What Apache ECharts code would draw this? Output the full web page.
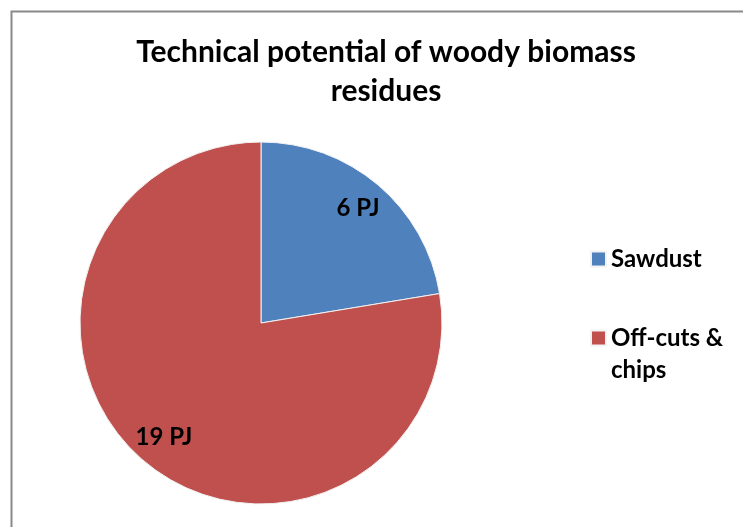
<!DOCTYPE html>
<html>
<head>
<meta charset="utf-8">
<script src="https://cdn.jsdelivr.net/npm/echarts@6/dist/echarts.min.js"></script>
<style>
  html, body { margin: 0; padding: 0; background: #fff; }
  #chart { width: 743px; height: 527px; }
</style>
</head>
<body>
<div id="chart"></div>
<script>
  // data
  const categories = ['Sawdust', 'Off-cuts & chips']
  const values = [5.6, 19.4]
  const colors = ['#4F81BD', '#C0504D']
  // empty first line keeps the marker level with "Off-cuts &"
  const legendNames = { 'Sawdust': 'Sawdust', 'Off-cuts & chips': '\nOff-cuts &\nchips' }

  const font = 'Lato, "Open Sans", sans-serif'
  const chart = echarts.init(document.getElementById('chart'))

  const pieData = categories.map((c, i) => ({ name: c, value: values[i], itemStyle: { color: colors[i] } }))

  const option = {
    animation: false,
    title: {
      text: 'Technical potential of woody biomass\nresidues',
      left: 381,
      top: 28,
      textAlign: 'center',
      textStyle: { fontFamily: font, fontWeight: 'bold', fontSize: 30, color: '#000', lineHeight: 39 }
    },
    legend: {
      orient: 'vertical',
      left: 585,
      top: 238,
      icon: 'rect',
      itemWidth: 15,
      itemHeight: 15,
      itemGap: 15,
      data: categories,
      formatter: name => legendNames[name],
      textStyle: { fontFamily: font, fontWeight: 'bold', fontSize: 24, color: '#000', lineHeight: 32 }
    },
    graphic: [{
      type: 'rect',
      shape: { x: 11.5, y: 11.5, width: 800, height: 600 },
      style: { fill: 'none', stroke: '#898989', lineWidth: 2 },
      silent: true
    }],
    series: [
      {
        type: 'pie',
        center: [261, 323],
        radius: [0, 181],
        startAngle: 90,
        clockwise: true,
        label: { show: false },
        labelLine: { show: false },
        itemStyle: { borderColor: '#f2f2f2', borderWidth: 1 },
        data: pieData
      },
      {
        // transparent ring used only to place the labels
        type: 'pie',
        center: [261, 323],
        radius: [0, 294],
        startAngle: 90,
        clockwise: true,
        silent: true,
        itemStyle: { color: 'rgba(0,0,0,0)' },
        label: {
          show: true,
          position: 'inside',
          formatter: p => Math.round(p.value) + ' PJ',
          fontFamily: font,
          fontWeight: 'bold',
          fontSize: 24,
          color: '#000'
        },
        labelLine: { show: false },
        data: categories.map((c, i) => ({ name: c, value: values[i] }))
      }
    ]
  }
  chart.setOption(option)
</script>
</body>
</html>
